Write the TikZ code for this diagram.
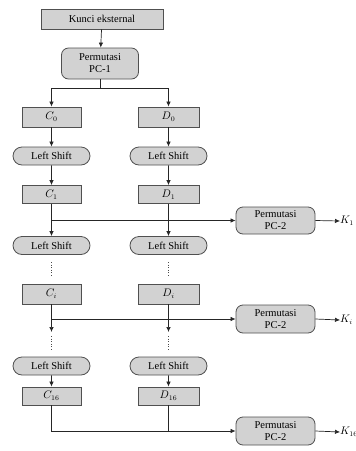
\documentclass[tikz,border=0pt]{standalone}
\usepackage{fontspec}
\setmainfont{Liberation Serif}
\usetikzlibrary{shapes.misc,arrows.meta}
\definecolor{boxfill}{HTML}{D2D2D2}
\definecolor{boxline}{HTML}{505050}
\begin{document}
\begin{tikzpicture}[x=1pt,y=-1pt,
  every node/.style={inner sep=0pt,font=\fontsize{10.5}{12}\selectfont},
  sqbox/.style={draw=boxline,fill=boxfill,line width=0.8pt,minimum height=20pt},
  rbox/.style={draw=boxline,fill=boxfill,line width=0.8pt,rounded corners=7pt,align=center},
  lsbox/.style={draw=boxline,fill=boxfill,line width=0.8pt,rounded rectangle,minimum width=77pt,minimum height=18pt},
  conn/.style={draw=black!85,line width=0.7pt},
  arr/.style={conn,-{Latex[length=5pt,width=4.5pt]}},
  dots/.style={draw=black!70,line width=0.6pt,dash pattern=on 1pt off 1.6pt}]
\useasboundingbox (0,0) rectangle (356,451);
% top
\node[sqbox,minimum width=122pt] (kunci) at (102,19) {Kunci eksternal};
\node[rbox,minimum width=77pt,minimum height=31pt] (pc1) at (100,63.5) {Permutasi\\PC-1};
% column boxes
\node[sqbox,minimum width=59pt] (c0) at (51.5,117) {$C_0$};
\node[sqbox,minimum width=61pt] (d0) at (168.5,117) {$D_0$};
\node[lsbox] (lsc1) at (51.5,156) {Left Shift};
\node[lsbox] (lsd1) at (168.5,156) {Left Shift};
\node[sqbox,minimum width=59pt,minimum height=18pt] (c1) at (51.5,194.5) {$C_1$};
\node[sqbox,minimum width=61pt,minimum height=18pt] (d1) at (168.5,194.5) {$D_1$};
\node[rbox,minimum width=79pt,minimum height=27pt] (pk1) at (275.5,220.5) {Permutasi\\PC-2};
\node[lsbox] (lsc2) at (51.5,245.5) {Left Shift};
\node[lsbox] (lsd2) at (168.5,245.5) {Left Shift};
\node[sqbox,minimum width=59pt] (ci) at (51.5,294) {$C_i$};
\node[sqbox,minimum width=61pt] (di) at (168.5,294) {$D_i$};
\node[rbox,minimum width=79pt,minimum height=28pt] (pki) at (275.5,319) {Permutasi\\PC-2};
\node[lsbox] (lsc3) at (51.5,366) {Left Shift};
\node[lsbox] (lsd3) at (168.5,366) {Left Shift};
\node[sqbox,minimum width=59pt,minimum height=18pt] (c16) at (51.5,396) {$C_{16}$};
\node[sqbox,minimum width=61pt,minimum height=18pt] (d16) at (168.5,396) {$D_{16}$};
\node[rbox,minimum width=79pt,minimum height=28pt] (pk16) at (275.5,431) {Permutasi\\PC-2};
% output labels
\node[anchor=west] (k1) at (340,221) {$K_1$};
\node[anchor=west] (ki) at (340,320) {$K_i$};
\node[anchor=west] (k16) at (340,432) {$K_{16}$};
% coordinates
\coordinate (brL) at (51.5,88);
\coordinate (brR) at (168.5,88);
\coordinate (ec) at (51.5,332);
\coordinate (ed) at (168.5,332);
% connectors
\draw[arr] (kunci) -- (pc1);
\draw[conn] (pc1.south) -- (pc1.south |- brL);
\draw[conn] (brL) -- (brR);
\draw[arr] (brL) -- (c0);
\draw[arr] (brR) -- (d0);
\draw[arr] (c0) -- (lsc1);
\draw[arr] (d0) -- (lsd1);
\draw[arr] (lsc1) -- (c1);
\draw[arr] (lsd1) -- (d1);
\draw[arr] (c1) -- (lsc2);
\draw[arr] (d1) -- (lsd2);
\draw[arr] (c1.south |- pk1.west) -- (pk1.west);
\draw[arr] (pk1.east) -- (k1.west);
\draw[arr] (ci) -- (ec);
\draw[arr] (di) -- (ed);
\draw[arr] (ci.south |- pki.west) -- (pki.west);
\draw[arr] (pki.east) -- (ki.west);
\draw[arr] (lsc3) -- (c16);
\draw[arr] (lsd3) -- (d16);
\draw[conn] (d16) -- (d16.south |- pk16.west);
\draw[arr] (c16) -- (c16.south |- pk16.west) -- (pk16.west);
\draw[arr] (pk16.east) -- (k16.west);
% dotted continuations
\draw[dots] (51.5,262) -- (51.5,276);
\draw[dots] (168.5,262) -- (168.5,276);
\draw[dots] (51.5,336) -- (51.5,350);
\draw[dots] (168.5,336) -- (168.5,350);
\end{tikzpicture}
\end{document}
